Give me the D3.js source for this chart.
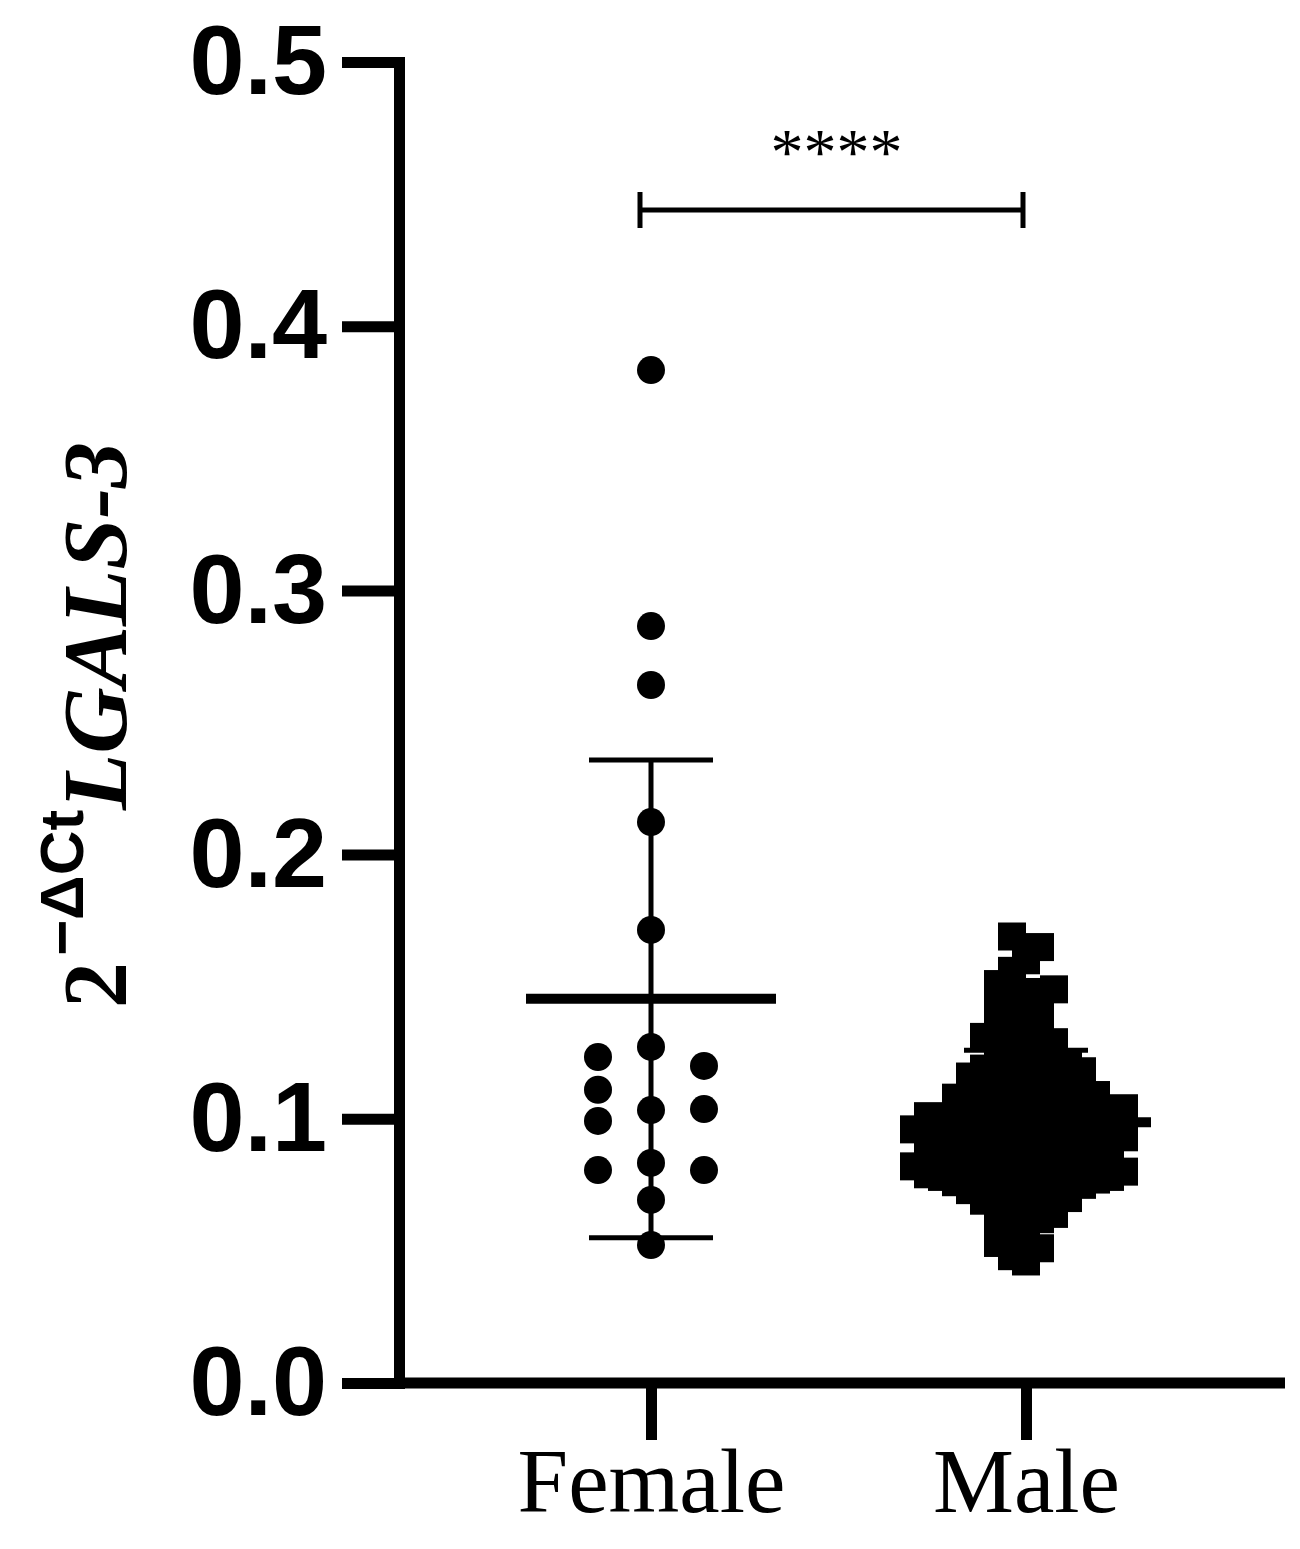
<!DOCTYPE html>
<html>
<head>
<meta charset="utf-8">
<script src="https://cdn.jsdelivr.net/npm/d3@7"></script>
<style>
  html, body { margin: 0; padding: 0; background: #fff; }
  svg { display: block; }
</style>
</head>
<body>
<svg id="chart" width="1300" height="1549"></svg>
<script>
// ---- data ----
const categories = ["Female", "Male"];
const yTicks = [0.0, 0.1, 0.2, 0.3, 0.4, 0.5];
const yLabelBase = "2";
const yLabelSup = "\u2212\u0394Ct";
const yLabelGene = "LGALS-3";
const significance = "****";

// Female values (in sheet order)
const femaleValues = [0.3834, 0.2865, 0.2642, 0.2123, 0.1715, 0.1272, 0.1033, 0.0833, 0.0693, 0.0522,
                      0.1234, 0.1110, 0.0992, 0.0806, 0.1200, 0.1037, 0.0806];
// Male values (estimated from the dense cluster)
const maleValues = [0.046, 0.048,
  0.051, 0.053, 0.057,
  0.061, 0.062, 0.063, 0.064, 0.067, 0.069,
  0.070, 0.071, 0.072, 0.073, 0.073, 0.074, 0.075, 0.076, 0.077, 0.077, 0.078, 0.078, 0.079, 0.079,
  0.080, 0.080, 0.081, 0.082, 0.082, 0.083, 0.084, 0.084, 0.085, 0.086, 0.087, 0.087, 0.088, 0.089, 0.089,
  0.090, 0.091, 0.091, 0.092, 0.093, 0.093, 0.094, 0.095, 0.095, 0.096, 0.096, 0.097, 0.098, 0.098, 0.099, 0.099,
  0.100, 0.101, 0.101, 0.102, 0.103, 0.104, 0.104, 0.105, 0.106, 0.107, 0.108, 0.109, 0.109,
  0.110, 0.111, 0.112, 0.113, 0.114, 0.116, 0.117, 0.118, 0.119,
  0.120, 0.122, 0.123, 0.125, 0.127, 0.129,
  0.131, 0.133, 0.135, 0.138,
  0.141, 0.143, 0.145, 0.148, 0.149,
  0.151, 0.156,
  0.160,
  0.165, 0.169];

// ---- layout ----
const svg = d3.select("#chart");
svg.append("rect").attr("width", 1300).attr("height", 1549).attr("fill", "#fff");

const axisX = 399, axisRight = 1285;
const y = d3.scaleLinear().domain([0, 0.5]).range([1383, 62]);
const x = d3.scalePoint().domain(categories).range([651, 1026]);

// y axis
const yAxis = d3.axisLeft(y)
  .tickValues(yTicks)
  .tickFormat(d3.format(".1f"))
  .tickSize(57)
  .tickSizeOuter(0)
  .tickPadding(15);
const gy = svg.append("g").attr("transform", `translate(${axisX},0)`).call(yAxis);
gy.select(".domain").attr("stroke", "#000").attr("stroke-width", 11).attr("stroke-linecap", "square");
gy.selectAll(".tick line").attr("stroke", "#000").attr("stroke-width", 11);
gy.selectAll(".tick text")
  .attr("fill", "#000")
  .attr("font-family", "'Liberation Sans', Arial, sans-serif")
  .attr("font-weight", "bold")
  .attr("font-size", 99);

// x axis
svg.append("line")
  .attr("x1", axisX).attr("x2", axisRight)
  .attr("y1", y(0)).attr("y2", y(0))
  .attr("stroke", "#000").attr("stroke-width", 11);
const xAxis = d3.axisBottom(x).tickSize(57).tickSizeOuter(0);
const gx = svg.append("g").attr("transform", `translate(0,${y(0)})`).call(xAxis);
gx.select(".domain").remove();
gx.selectAll(".tick line").attr("stroke", "#000").attr("stroke-width", 11);
gx.selectAll(".tick text")
  .attr("fill", "#000")
  .attr("font-family", "'Liberation Serif', 'Times New Roman', serif")
  .attr("font-size", 91)
  .attr("y", 129)
  .attr("dy", 0);

// swarm placement: first free column in order 0,-1,1,-2,2...
function swarm(values, step, minGap) {
  const placed = [];
  return values.map(v => {
    const py = y(v);
    for (let i = 0; i < 200; i++) {
      const k = i === 0 ? 0 : (i % 2 === 1 ? -Math.ceil(i / 2) : Math.ceil(i / 2));
      if (!placed.some(p => p.k === k && Math.abs(p.y - py) < minGap)) {
        placed.push({ k, y: py });
        return { v, dx: k * step };
      }
    }
    return { v, dx: 0 };
  });
}

function errorBars(cat, values) {
  const m = d3.mean(values), s = d3.deviation(values);
  const cx = x(cat);
  const g = svg.append("g");
  g.append("line").attr("x1", cx).attr("x2", cx).attr("y1", y(m + s)).attr("y2", y(m - s))
    .attr("stroke", "#000").attr("stroke-width", 5);
  [m + s, m - s].forEach(v => {
    g.append("line").attr("x1", cx - 62).attr("x2", cx + 62).attr("y1", y(v)).attr("y2", y(v))
      .attr("stroke", "#000").attr("stroke-width", 5);
  });
  g.append("line").attr("x1", cx - 125).attr("x2", cx + 125).attr("y1", y(m)).attr("y2", y(m))
    .attr("stroke", "#000").attr("stroke-width", 10);
}

errorBars("Female", femaleValues);
errorBars("Male", maleValues);

// female circles
const fPts = swarm(femaleValues, 53, 28);
svg.append("g").selectAll("circle").data(fPts).join("circle")
  .attr("cx", d => x("Female") + d.dx)
  .attr("cy", d => y(d.v))
  .attr("r", 14)
  .attr("fill", "#000");

// male squares
const mPts = swarm(maleValues.slice().sort(d3.ascending), 14, 26);
const sq = 28;
svg.append("g").selectAll("rect").data(mPts).join("rect")
  .attr("x", d => x("Male") + d.dx - sq / 2)
  .attr("y", d => y(d.v) - sq / 2)
  .attr("width", sq).attr("height", sq)
  .attr("fill", "#000");

// significance bracket
const sigY = 210;
const bx1 = x("Female") - 11, bx2 = x("Male") - 3;
const sg = svg.append("g").attr("stroke", "#000").attr("stroke-width", 5);
sg.append("line").attr("x1", bx1).attr("x2", bx2).attr("y1", sigY).attr("y2", sigY);
sg.append("line").attr("x1", bx1).attr("x2", bx1).attr("y1", sigY - 18).attr("y2", sigY + 18);
sg.append("line").attr("x1", bx2).attr("x2", bx2).attr("y1", sigY - 18).attr("y2", sigY + 18);
svg.append("text")
  .attr("x", (bx1 + bx2) / 2 + 5).attr("y", 174)
  .attr("text-anchor", "middle")
  .attr("font-family", "'Liberation Serif', 'Times New Roman', serif")
  .attr("font-size", 66)
  .attr("fill", "#000")
  .text(significance);

// y axis title
const yl = svg.append("text")
  .attr("transform", "translate(126,725) rotate(-90)")
  .attr("text-anchor", "middle")
  .attr("font-family", "'Liberation Serif', 'Times New Roman', serif")
  .attr("font-weight", "bold")
  .attr("fill", "#000");
yl.append("tspan").attr("font-size", 92).text(yLabelBase);
yl.append("tspan").attr("font-size", 62).attr("dx", 6).attr("dy", -43)
  .attr("font-family", "'Liberation Sans', Arial, sans-serif").text(yLabelSup);
yl.append("tspan").attr("font-size", 92).attr("font-style", "italic").attr("dy", 43).text(yLabelGene);
</script>
</body>
</html>
